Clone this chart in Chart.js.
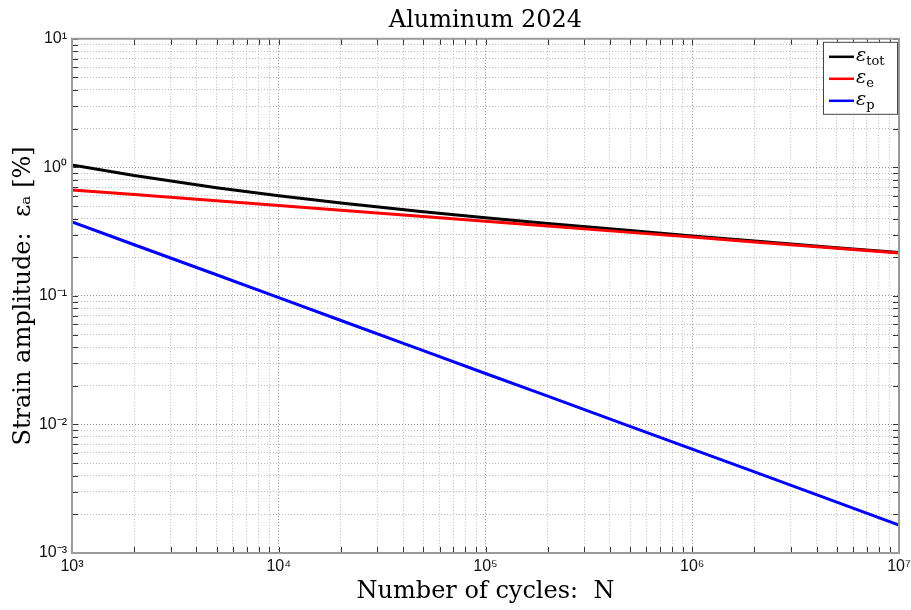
<!DOCTYPE html>
<html><head><meta charset="utf-8">
<script src="https://cdn.jsdelivr.net/npm/chart.js@4/dist/chart.umd.min.js"></script>
<style>html,body{margin:0;padding:0;background:#fff}#wrap{width:911px;height:610px}</style>
</head><body><div id="wrap"><canvas id="c" width="911" height="610"></canvas></div>
<script>
// ---- data ----
const cycles = [1e3, 2e3, 5e3, 1e4, 2e4, 5e4, 1e5, 2e5, 5e5, 1e6, 2e6, 5e6, 1e7];
const epsTot = [1.045, 0.864, 0.695, 0.601, 0.527, 0.452, 0.405, 0.366, 0.322, 0.293, 0.267, 0.237, 0.218];
const epsE   = [0.668, 0.614, 0.549, 0.504, 0.463, 0.414, 0.380, 0.349, 0.312, 0.287, 0.263, 0.235, 0.216];
const epsP   = [0.377, 0.250, 0.146, 0.0969, 0.0644, 0.0375, 0.0249, 0.0166, 0.00966, 0.00642, 0.00427, 0.00249, 0.00165];
const seriesLabels = ['ε_tot', 'ε_e', 'ε_p'];
const xDecades = [1e3, 1e4, 1e5, 1e6, 1e7];
const xTickLabels = ['10³', '10⁴', '10⁵', '10⁶', '10⁷'];
const yDecades = [1e-3, 1e-2, 1e-1, 1e0, 1e1];
const yTickLabels = ['10⁻³', '10⁻²', '10⁻¹', '10⁰', '10¹'];
const minorMultipliers = [1, 2, 3, 4, 5, 6, 7, 8, 9];
const titleText = 'Aluminum 2024';
const xTitle = 'Number of cycles:  N';
const yTitle = 'Strain amplitude:  εₐ [%]';

function logTicks(decades) {
  const out = [];
  decades.forEach((d, i) => {
    if (i === decades.length - 1) { out.push({ value: d, major: true }); return; }
    minorMultipliers.forEach(m => out.push({ value: d * m, major: m === 1 }));
  });
  return out;
}
function labelFor(value, decades, labels) {
  for (let i = 0; i < decades.length; i++) {
    if (Math.abs(Math.log10(value) - Math.log10(decades[i])) < 1e-6) return labels[i];
  }
  return '';
}

const frame = {
  id: 'frame',
  afterDatasetsDraw(chart) {
    const { ctx, chartArea: a, scales } = chart;
    ctx.save();
    ctx.strokeStyle = '#333';
    ctx.lineWidth = 1;
    const L = 6;
    scales.x.ticks.forEach(t => {
      const px = Math.round(scales.x.getPixelForValue(t.value)) + 0.5;
      ctx.beginPath();
      ctx.moveTo(px, a.bottom); ctx.lineTo(px, a.bottom - L);
      ctx.moveTo(px, a.top); ctx.lineTo(px, a.top + L);
      ctx.stroke();
    });
    scales.y.ticks.forEach(t => {
      const py = Math.round(scales.y.getPixelForValue(t.value)) + 0.5;
      ctx.beginPath();
      ctx.moveTo(a.left, py); ctx.lineTo(a.left + L, py);
      ctx.moveTo(a.right, py); ctx.lineTo(a.right - L, py);
      ctx.stroke();
    });
    ctx.strokeStyle = '#9a9a9a';
    ctx.lineWidth = 2;
    ctx.strokeRect(a.left, a.top, a.right - a.left, a.bottom - a.top);
    ctx.restore();
  },
  afterDraw(chart) {
    const { ctx, chartArea: a } = chart;
    const ds = chart.data.datasets;
    const bx = a.right - 76, by = a.top + 3, bw = 74, bh = 72;
    ctx.save();
    ctx.fillStyle = '#fff';
    ctx.fillRect(bx, by, bw, bh);
    ctx.strokeStyle = '#444';
    ctx.lineWidth = 1;
    ctx.strokeRect(bx + 0.5, by + 0.5, bw, bh);
    ds.forEach((d, i) => {
      const y = by + 15 + i * 22;
      ctx.strokeStyle = d.borderColor;
      ctx.lineWidth = 2.5;
      ctx.beginPath(); ctx.moveTo(bx + 6, y); ctx.lineTo(bx + 31, y); ctx.stroke();
      const [main, sub] = d.label.split('_');
      ctx.fillStyle = '#000';
      ctx.textBaseline = 'alphabetic';
      ctx.font = 'italic 19px "DejaVu Serif"';
      ctx.fillText(main, bx + 33, y + 4);
      const w = ctx.measureText(main).width;
      ctx.font = '13px "DejaVu Serif"';
      ctx.fillText(sub, bx + 33 + w, y + 8);
    });
    ctx.restore();
  }
};

const gridColor = ctx => (ctx.tick && ctx.tick.major) ? '#8f8f8f' : '#bdbdbd';

new Chart(document.getElementById('c'), {
  type: 'line',
  data: {
    datasets: [
      { label: seriesLabels[0], data: cycles.map((n, i) => ({ x: n, y: epsTot[i] })), borderColor: '#000000', order: 1 },
      { label: seriesLabels[1], data: cycles.map((n, i) => ({ x: n, y: epsE[i] })), borderColor: '#ff0000', order: 0 },
      { label: seriesLabels[2], data: cycles.map((n, i) => ({ x: n, y: epsP[i] })), borderColor: '#0000ff', order: 2 }
    ]
  },
  options: {
    responsive: false,
    animation: false,
    devicePixelRatio: 1,
    elements: { point: { radius: 0 }, line: { borderWidth: 3, tension: 0, fill: false } },
    layout: { padding: { left: 0, right: 12, top: 0, bottom: 0 } },
    plugins: {
      legend: { display: false },
      tooltip: { enabled: false },
      title: {
        display: true, text: titleText, fullSize: false, color: '#000',
        font: { family: '"DejaVu Serif"', size: 24, weight: 'normal', lineHeight: 1.2 },
        padding: { top: 6, bottom: 4 }
      }
    },
    scales: {
      x: {
        type: 'logarithmic', min: 1e3, max: 1e7,
        afterBuildTicks: s => { s.ticks = logTicks(xDecades); },
        afterFit: s => { s.height = 57; s.paddingLeft = 0; s.paddingRight = 0; },
        grid: { color: gridColor, lineWidth: 1, drawTicks: false },
        border: { display: false, dash: [1, 2] },
        ticks: {
          autoSkip: false, maxRotation: 0, padding: 4, color: '#111',
          font: { family: '"Liberation Sans"', size: 16 },
          callback: v => labelFor(v, xDecades, xTickLabels)
        },
        title: {
          display: true, text: xTitle, color: '#000',
          font: { family: '"DejaVu Serif"', size: 24, lineHeight: 1.2 },
          padding: { top: 0, bottom: 4 }
        }
      },
      y: {
        type: 'logarithmic', min: 1e-3, max: 1e1,
        afterBuildTicks: s => { s.ticks = logTicks(yDecades); },
        afterFit: s => { s.width = 72; s.paddingTop = 0; s.paddingBottom = 0; },
        grid: { color: gridColor, lineWidth: 1, drawTicks: false },
        border: { display: false, dash: [1, 2] },
        ticks: {
          autoSkip: false, padding: 5, color: '#111',
          font: { family: '"Liberation Sans"', size: 16 },
          callback: v => labelFor(v, yDecades, yTickLabels)
        },
        title: {
          display: true, text: yTitle, color: '#000',
          font: { family: '"DejaVu Serif"', size: 24, lineHeight: 1.2 },
          padding: { top: 9, bottom: 0 }
        }
      }
    }
  },
  plugins: [frame]
});
</script></body></html>
